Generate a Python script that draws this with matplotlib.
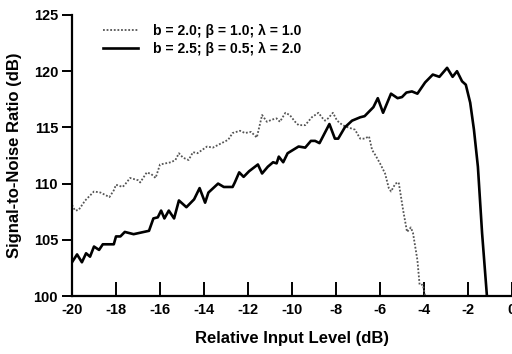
import numpy as np
import matplotlib
matplotlib.use("Agg")
import matplotlib.pyplot as plt

# relative input level (dB) / SNR (dB)
solid_x = [-20.0, -19.77, -19.55, -19.36, -19.18, -19.0, -18.77, -18.6, -18.1, -18.0,
           -17.8, -17.6, -17.2, -16.5, -16.3, -16.1, -15.95, -15.8, -15.6, -15.36,
           -15.14, -14.8, -14.45, -14.2, -13.95, -13.8, -13.36, -13.1, -12.7, -12.6,
           -12.4, -12.2, -11.95, -11.55, -11.36, -11.1, -10.86, -10.7, -10.6, -10.4,
           -10.2, -9.7, -9.4, -9.14, -8.95, -8.75, -8.3, -8.05, -7.9, -7.6,
           -7.27, -6.9, -6.7, -6.45, -6.3, -6.1, -5.86, -5.5, -5.2, -5.0,
           -4.8, -4.55, -4.3, -3.95, -3.6, -3.3, -2.95, -2.7, -2.5, -2.27,
           -2.1, -1.9, -1.73, -1.55, -1.36, -1.12]
solid_y = [103.0, 103.7, 103.0, 103.8, 103.5, 104.4, 104.1, 104.6, 104.6, 105.3,
           105.3, 105.7, 105.5, 105.8, 106.9, 107.0, 107.6, 106.9, 107.6, 106.9,
           108.5, 107.9, 108.6, 109.6, 108.3, 109.2, 110.0, 109.7, 109.7, 110.1,
           111.0, 110.6, 111.1, 111.7, 110.9, 111.5, 111.9, 111.8, 112.4, 111.9,
           112.7, 113.3, 113.2, 113.8, 113.8, 113.6, 115.3, 114.0, 114.0, 115.0,
           115.6, 115.9, 116.0, 116.5, 116.8, 117.6, 116.3, 118.0, 117.6, 117.7,
           118.1, 118.2, 118.0, 119.0, 119.7, 119.5, 120.3, 119.5, 120.0, 119.1,
           118.8, 117.2, 114.8, 111.5, 105.6, 99.5]

dot_x = [-20.0, -19.86, -19.7, -19.4, -19.0, -18.7, -18.3, -18.1, -18.0, -17.7,
         -17.6, -17.36, -17.0, -16.9, -16.6, -16.4, -16.2, -16.0, -15.5, -15.3,
         -15.14, -14.95, -14.7, -14.5, -14.3, -13.86, -13.6, -13.2, -12.9, -12.7,
         -12.36, -12.14, -11.86, -11.6, -11.36, -11.14, -10.9, -10.7, -10.55, -10.3,
         -10.1, -9.86, -9.7, -9.4, -9.1, -8.8, -8.6, -8.5, -8.36, -8.14,
         -7.95, -7.7, -7.45, -7.14, -6.9, -6.7, -6.5, -6.36, -6.2, -6.0,
         -5.77, -5.6, -5.5, -5.3, -5.15, -4.95, -4.77, -4.6, -4.5, -4.3,
         -4.2, -4.05, -3.95]
dot_y = [108.1, 107.6, 107.65, 108.5, 109.3, 109.2, 108.8, 109.4, 109.9, 109.7,
         109.9, 110.5, 110.3, 110.1, 111.0, 110.85, 110.5, 111.7, 111.9, 112.1,
         112.7, 112.3, 112.1, 112.8, 112.7, 113.3, 113.2, 113.6, 113.9, 114.5,
         114.7, 114.5, 114.6, 114.1, 116.1, 115.5, 115.7, 115.8, 115.5, 116.3,
         116.1, 115.5, 115.2, 115.2, 115.9, 116.3, 115.8, 115.6, 115.8, 116.3,
         115.6, 115.2, 115.0, 114.8, 114.0, 114.0, 114.2, 113.0, 112.5, 111.8,
         110.9, 109.6, 109.3, 110.0, 110.1, 107.65, 105.7, 106.1, 105.6, 103.2,
         101.0, 101.0, 100.0]

labels = ["b = 2.0; β = 1.0; λ = 1.0", "b = 2.5; β = 0.5; λ = 2.0"]
xticks = np.arange(-20, 1, 2)
yticks = np.arange(100, 126, 5)

plt.rcParams['font.family'] = ['Liberation Sans', 'DejaVu Sans']
plt.rcParams['font.weight'] = 'bold'
plt.rcParams['axes.unicode_minus'] = False

fig = plt.figure(figsize=(5.12, 3.54), dpi=100)
ax = fig.add_axes([72/512, 1 - 296/354, 440/512, 281/354])

ax.plot(dot_x, dot_y, color="#555555", lw=1.3, ls=(0, (1, 1)), label=labels[0])
ax.plot(solid_x, solid_y, color="black", lw=1.9, label=labels[1])

ax.set_xlim(-20, 0)
ax.set_ylim(100, 125)
ax.set_xticks(xticks)
ax.set_yticks(yticks)
ax.spines['top'].set_visible(False)
ax.spines['right'].set_visible(False)
ax.spines['left'].set_linewidth(1.6)
ax.spines['bottom'].set_linewidth(1.6)
ax.tick_params(axis='x', direction='in', length=10, width=1.4, labelsize=10.5, pad=5)
ax.tick_params(axis='y', direction='out', length=7, width=1.4, labelsize=10.5, pad=3)
for t in ax.get_xticklabels() + ax.get_yticklabels():
    t.set_fontweight('bold')

ax.set_xlabel("Relative Input Level (dB)", fontsize=12, fontweight='bold', labelpad=10)
ax.set_ylabel("Signal-to-Noise Ratio (dB)", fontsize=12, fontweight='bold', labelpad=8)

leg = ax.legend(loc='upper left', bbox_to_anchor=((103 - 72) / 440, (296 - 24) / 281),
                frameon=False, borderpad=0, borderaxespad=0, handlelength=2.5,
                handletextpad=1.1, labelspacing=0.3, prop={'size': 10, 'weight': 'bold'})

plt.savefig("out.png", dpi=100)
